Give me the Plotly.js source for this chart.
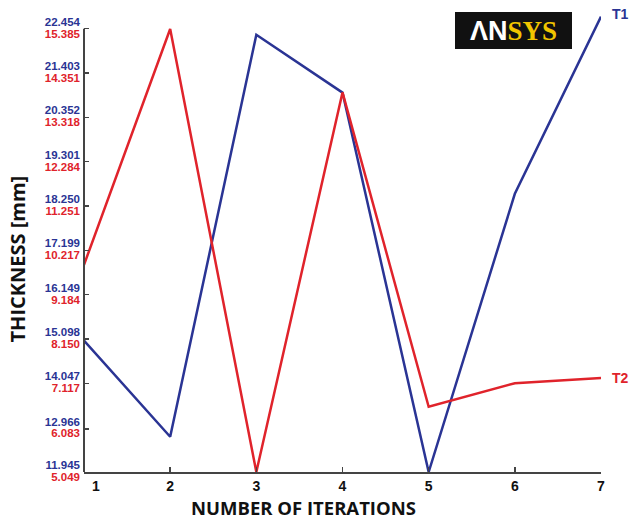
<!DOCTYPE html>
<html>
<head>
<meta charset="utf-8">
<script src="https://cdn.plot.ly/plotly-3.0.1.min.js"></script>
<style>html,body{margin:0;padding:0;background:#fff;}#chart{width:633px;height:520px;}</style>
</head>
<body>
<div id="chart"></div>
<script>
// Data
var iterations = [1, 2, 3, 4, 5, 6, 7];
var t1Values = [15.06, 12.78, 22.31, 20.94, 11.945, 18.54, 22.74];
var t2Values = [9.88, 15.38, 5.05, 13.90, 6.57, 7.12, 7.24];

// Tick labels of the two stacked scales
var t1Ticks = [11.945, 12.966, 14.047, 15.098, 16.149, 17.199, 18.250, 19.301, 20.352, 21.403, 22.454];
var t1TickText = ['11.945', '12.966', '14.047', '15.098', '16.149', '17.199', '18.250', '19.301', '20.352', '21.403', '22.454'];
var t2Ticks = [5.049, 6.083, 7.117, 8.150, 9.184, 10.217, 11.251, 12.284, 13.318, 14.351, 15.385];
var t2TickText = ['5.049', '6.083', '7.117', '8.150', '9.184', '10.217', '11.251', '12.284', '13.318', '14.351', '15.385'];
var xTickText = ['1', '2', '3', '4', '5', '6', '7'];

var BLUE = '#2a3494';
var RED = '#e0232b';
var AXIS = '#444444';
var ext = 0.04;

var t1Span = t1Ticks[t1Ticks.length - 1] - t1Ticks[0];
var t2Span = t2Ticks[t2Ticks.length - 1] - t2Ticks[0];

var traces = [
  {x: iterations, y: t1Values, type: 'scatter', mode: 'lines', name: 'T1',
   line: {color: BLUE, width: 2.5}, yaxis: 'y', hoverinfo: 'skip'},
  {x: iterations, y: t2Values, type: 'scatter', mode: 'lines', name: 'T2',
   line: {color: RED, width: 2.5}, yaxis: 'y2', hoverinfo: 'skip'}
];

var tickFont = {family: 'Liberation Sans, Arial, sans-serif', size: 11.5, weight: 'bold'};
var xFont = {family: 'Liberation Sans, Arial, sans-serif', size: 14, color: '#111', weight: 'bold'};

var layout = {
  width: 633, height: 520,
  margin: {l: 84, r: 32, t: 11, b: 48},
  paper_bgcolor: '#ffffff', plot_bgcolor: '#ffffff',
  showlegend: false,
  xaxis: {
    range: [iterations[0], iterations[iterations.length - 1]],
    tickvals: iterations.slice(1), ticktext: xTickText.slice(1),
    showline: true, linecolor: AXIS, linewidth: 2,
    ticks: 'inside', ticklen: 5, tickwidth: 1.5, tickcolor: AXIS,
    showgrid: false, zeroline: false,
    tickfont: xFont
  },
  yaxis: {
    range: [t1Ticks[0], t1Ticks[t1Ticks.length - 1] + ext * t1Span],
    tickvals: t1Ticks, ticktext: t1TickText,
    showline: false, showgrid: false, zeroline: false,
    ticks: 'inside', ticklen: 5, tickwidth: 1.5, tickcolor: AXIS,
    ticklabelshift: -7, ticklabelstandoff: 3,
    tickfont: Object.assign({}, tickFont, {color: BLUE})
  },
  yaxis2: {
    range: [t2Ticks[0], t2Ticks[t2Ticks.length - 1] + ext * t2Span],
    tickvals: t2Ticks, ticktext: t2TickText,
    overlaying: 'y', side: 'left',
    showline: false, showgrid: false, zeroline: false,
    ticks: '', ticklabelshift: 5, ticklabelstandoff: 3,
    tickfont: Object.assign({}, tickFont, {color: RED})
  },
  shapes: [
    {type: 'line', xref: 'paper', yref: 'y', x0: 0, x1: 0,
     y0: t1Ticks[0], y1: t1Ticks[t1Ticks.length - 1],
     line: {color: AXIS, width: 2}},
    {type: 'rect', xref: 'paper', yref: 'paper',
     x0: 0.7176, x1: 0.9439, y0: 0.9176, y1: 0.9978,
     fillcolor: '#111111', line: {width: 0}, layer: 'above'}
  ],
  annotations: [
    {x: iterations[0], xref: 'x', yref: 'paper', y: 0, xanchor: 'center', yanchor: 'middle',
     xshift: 12, yshift: -14, showarrow: false, text: xTickText[0], font: xFont},
    {xref: 'paper', yref: 'paper', x: 0.8307, y: 0.9577, xanchor: 'center', yanchor: 'middle',
     showarrow: false,
     text: '<span style="font-family:Liberation Sans;font-weight:bold;color:#ffffff">ΛN</span><span style="font-family:Liberation Serif;font-weight:bold;color:#f2c500">SYS</span>',
     font: {size: 27, color: '#ffffff'}},
    {x: iterations[6], y: t1Values[6], xref: 'x', yref: 'y', xanchor: 'left', yanchor: 'middle',
     xshift: 9, yshift: 3, showarrow: false, text: '<b>T1</b>',
     font: {family: 'Liberation Sans, Arial, sans-serif', size: 14, color: BLUE}},
    {x: iterations[6], y: t2Values[6], xref: 'x', yref: 'y2', xanchor: 'left', yanchor: 'middle',
     xshift: 9, yshift: 0, showarrow: false, text: '<b>T2</b>',
     font: {family: 'Liberation Sans, Arial, sans-serif', size: 14, color: RED}},
    {xref: 'paper', yref: 'paper', x: 0, y: 0.5, xshift: -67, yshift: -18,
     xanchor: 'center', yanchor: 'middle', textangle: -90, showarrow: false,
     text: '<b>THICKNESS [mm]</b>',
     font: {family: 'Open Sans, sans-serif', size: 20, color: '#111'}},
    {xref: 'paper', yref: 'paper', x: 0.4236, y: 0, yshift: -35,
     xanchor: 'center', yanchor: 'middle', showarrow: false,
     text: '<b>NUMBER OF ITERATIONS</b>',
     font: {family: 'Open Sans, sans-serif', size: 18.5, color: '#111'}}
  ]
};

Plotly.newPlot('chart', traces, layout, {staticPlot: true, displayModeBar: false});
</script>
</body>
</html>
